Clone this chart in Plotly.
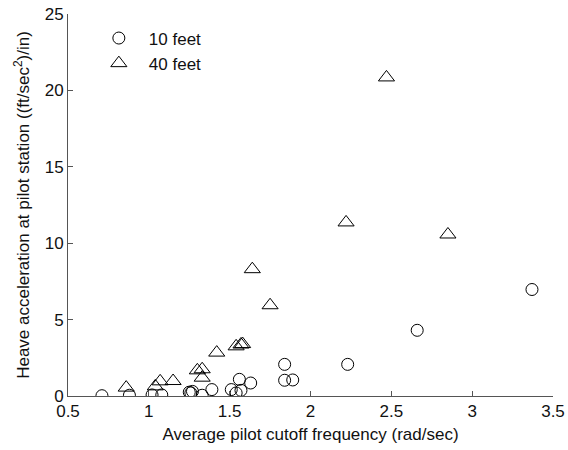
import plotly.graph_objects as go

# 10 feet (circles)
x10 = [0.71, 0.88, 1.02, 1.08, 1.25, 1.27, 1.26, 1.33, 1.39, 1.51, 1.54, 1.57, 1.56, 1.63, 1.84, 1.84, 1.89, 2.23, 2.66, 3.37]
y10 = [0.02, 0.05, 0.07, 0.07, 0.25, 0.3, 0.2, 0.05, 0.42, 0.42, 0.2, 0.37, 1.09, 0.85, 2.07, 1.03, 1.05, 2.07, 4.3, 6.97]
# 40 feet (triangles)
x40 = [0.86, 1.04, 1.07, 1.15, 1.30, 1.33, 1.33, 1.42, 1.54, 1.57, 1.58, 1.64, 1.75, 2.22, 2.47, 2.85]
y40 = [0.55, 0.63, 0.96, 0.98, 1.68, 1.75, 1.2, 2.84, 3.25, 3.37, 3.4, 8.3, 5.94, 11.36, 20.85, 10.57]

xticks = [0.5, 1, 1.5, 2, 2.5, 3, 3.5]
xtick_text = ["0.5", "1", "1.5", "2", "2.5", "3", "3.5"]
yticks = [0, 5, 10, 15, 20, 25]

FONT = "Liberation Sans, Arial, sans-serif"

fig = go.Figure()
fig.add_trace(go.Scatter(x=x10, y=y10, mode="markers", name="10 feet",
                         marker=dict(symbol="circle-open", size=12, color="black", line=dict(width=1))))
fig.add_trace(go.Scatter(x=x40, y=y40, mode="markers", name="40 feet",
                         marker=dict(symbol="triangle-up-open", size=14, color="black", line=dict(width=1))))

fig.update_layout(
    width=568, height=450,
    margin=dict(l=68, r=15, t=14, b=54, autoexpand=False),
    paper_bgcolor="white", plot_bgcolor="white",
    font=dict(family=FONT, size=17, color="#111"),
    showlegend=True,
    legend=dict(x=0.043, y=0.983, xanchor="left", yanchor="top", bgcolor="rgba(0,0,0,0)",
                font=dict(size=17), itemwidth=50, tracegroupgap=0),
    xaxis=dict(range=[0.5, 3.5], tickvals=xticks, ticktext=xtick_text, automargin=False,
               ticks="inside", ticklen=5, tickcolor="#555", showline=True, linecolor="#555",
               linewidth=1, showgrid=False, zeroline=False,
               title=dict(text="Average pilot cutoff frequency (rad/sec)", font=dict(size=17), standoff=7)),
    yaxis=dict(range=[0, 25], tickvals=yticks, automargin=False,
               ticks="inside", ticklen=5, tickcolor="#555", showline=True, linecolor="#555",
               linewidth=1, showgrid=False, zeroline=False,
               title=dict(text="Heave acceleration at pilot station ((ft/sec<sup>2</sup>)/in)",
                          font=dict(size=17), standoff=10)),
)

fig.write_html("out.html")
